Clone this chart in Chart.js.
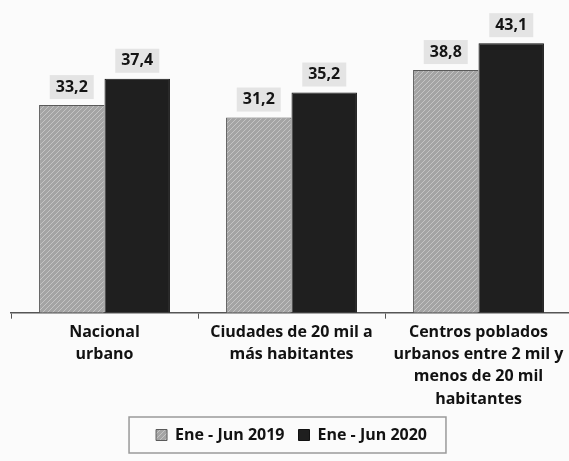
<!DOCTYPE html>
<html>
<head>
<meta charset="utf-8">
<script src="https://cdn.jsdelivr.net/npm/chart.js@4/dist/chart.umd.min.js"></script>
<style>
  html, body { margin: 0; padding: 0; background: #fbfbfb; overflow: hidden; }
  #wrap { width: 580px; height: 461px; }
</style>
</head>
<body>
<div id="wrap"><canvas id="myChart"></canvas></div>
<script>
const categories = [
  ["Nacional", "urbano"],
  ["Ciudades de 20 mil a", "más habitantes"],
  ["Centros poblados", "urbanos entre 2 mil y", "menos de 20 mil", "habitantes"]
];
const seriesNames = ["Ene - Jun 2019", "Ene - Jun 2020"];
const values2019 = [33.2, 31.2, 38.8];
const values2020 = [37.4, 35.2, 43.1];

const fontFamily = "'Open Sans', 'DejaVu Sans', sans-serif";

// grey diagonal hatch for the 2019 bars
function hatch() {
  const c = document.createElement("canvas");
  c.width = 5;
  c.height = 5;
  const g = c.getContext("2d");
  g.fillStyle = "#a4a4a4";
  g.fillRect(0, 0, 5, 5);
  g.strokeStyle = "#c4c4c4";
  g.lineWidth = 1;
  g.beginPath();
  g.moveTo(0, 5); g.lineTo(5, 0);
  g.moveTo(-3, 3); g.lineTo(3, -3);
  g.moveTo(3, 8); g.lineTo(8, 3);
  g.stroke();
  return g.createPattern(c, "repeat");
}

// value labels above each bar, comma decimals
const barLabels = {
  id: "barLabels",
  afterDatasetsDraw(chart) {
    const ctx = chart.ctx;
    ctx.save();
    ctx.font = "bold 16px " + fontFamily;
    ctx.textAlign = "center";
    ctx.textBaseline = "middle";
    chart.data.datasets.forEach((ds, i) => {
      chart.getDatasetMeta(i).data.forEach((bar, j) => {
        const txt = ds.data[j].toFixed(1).replace(".", ",");
        const y = bar.y - 18;
        const w = ctx.measureText(txt).width + 12;
        ctx.fillStyle = "rgba(222,222,222,0.8)";
        ctx.fillRect(bar.x - w / 2, y - 12, w, 24);
        ctx.fillStyle = "#141414";
        ctx.fillText(txt, bar.x, y);
      });
    });
    ctx.restore();
  }
};

// thin frame around the legend items
const legendFrame = {
  id: "legendFrame",
  afterDraw(chart) {
    const boxes = chart.legend.legendHitBoxes;
    if (!boxes || !boxes.length) return;
    const left = Math.min(...boxes.map(b => b.left)) - 27;
    const right = Math.max(...boxes.map(b => b.left + b.width)) + 19;
    const top = Math.min(...boxes.map(b => b.top)) - 10;
    const bottom = Math.max(...boxes.map(b => b.top + b.height)) + 10;
    const ctx = chart.ctx;
    ctx.save();
    ctx.strokeStyle = "#9a9a9a";
    ctx.lineWidth = 1.5;
    ctx.strokeRect(left, top, right - left, bottom - top);
    ctx.restore();
  }
};

const ctx = document.getElementById("myChart");

const myChart = new Chart(ctx, {
  type: "bar",
  data: {
    labels: categories,
    datasets: [
      {
        label: seriesNames[0],
        data: values2019,
        backgroundColor: hatch(),
        borderColor: "#5a5a5a",
        borderWidth: 1
      },
      {
        label: seriesNames[1],
        data: values2020,
        backgroundColor: "#1f1f1f",
        borderColor: "#111111",
        borderWidth: 1
      }
    ]
  },
  options: {
    responsive: true,
    maintainAspectRatio: false,
    animation: false,
    layout: { padding: { top: 0, left: 11, right: 8, bottom: 8 } },
    datasets: {
      bar: { categoryPercentage: 0.7, barPercentage: 1.0 }
    },
    scales: {
      x: {
        grid: { drawOnChartArea: false, drawTicks: true, tickLength: 6, color: "#555", offset: true },
        border: { color: "#555", width: 1.5 },
        ticks: {
          color: "#121212",
          padding: 3,
          maxRotation: 0,
          font: { family: fontFamily, size: 16, weight: "bold", lineHeight: 1.38 }
        }
      },
      y: {
        display: false,
        min: 0,
        max: 50
      }
    },
    plugins: {
      tooltip: { enabled: false },
      legend: {
        position: "bottom",
        labels: {
          color: "#121212",
          boxWidth: 11,
          boxHeight: 11,
          padding: 14,
          font: { family: fontFamily, size: 16, weight: "bold" }
        }
      }
    }
  },
  plugins: [barLabels, legendFrame]
});
</script>
</body>
</html>
